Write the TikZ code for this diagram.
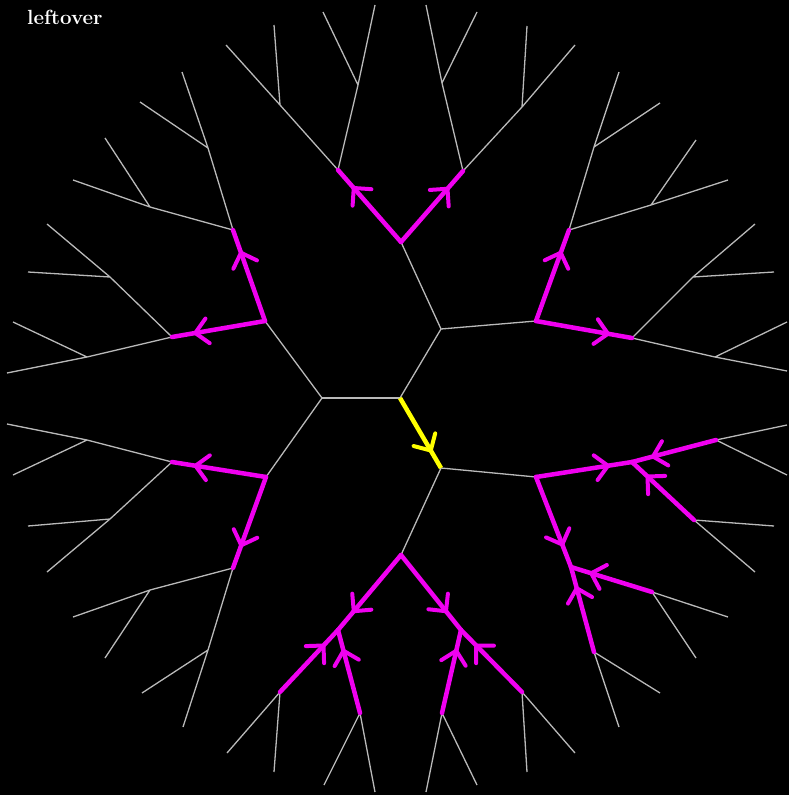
\documentclass[tikz,border=0pt]{standalone}
\usetikzlibrary{decorations.markings}
\definecolor{edgegray}{RGB}{185,185,185}
\definecolor{mag}{RGB}{240,0,240}
\definecolor{yel}{RGB}{255,255,0}
\tikzset{
  gedge/.style={draw=edgegray, line width=1.3pt},
  barbmark/.style={postaction={decorate,decoration={markings,
     mark=at position 0.75 with {\draw[draw=#1,line width=4pt,line cap=round] (-12.5pt,12.5pt) -- (0pt,0pt) -- (-12.5pt,-12.5pt);}}}},
  medge/.style={draw=mag, line width=4.5pt, line cap=round, barbmark=mag},
  yedge/.style={draw=yel, line width=4.5pt, barbmark=yel},
}
\begin{document}
\begin{tikzpicture}[x=1pt,y=-1pt]
\fill[black] (0,0) rectangle (789,795);
\path[use as bounding box] (0,0) rectangle (789,795);
% centre
\coordinate (A) at (400,398);
\coordinate (B) at (322,398);
\coordinate (C) at (441,329);
\coordinate (D) at (441,468);
% depth 2
\coordinate (B1) at (265,321);
\coordinate (B2) at (266,477);
\coordinate (C1) at (401,242);
\coordinate (C2) at (536,321);
\coordinate (D1) at (536,477);
\coordinate (D2) at (401,555);
% depth 3
\coordinate (B1a) at (233,230);
\coordinate (B1b) at (172,337);
\coordinate (B2a) at (172,462);
\coordinate (B2b) at (233,568);
\coordinate (C1a) at (338,170);
\coordinate (C1b) at (463,171);
\coordinate (C2a) at (569,230);
\coordinate (C2b) at (632,338);
\coordinate (D1a) at (632,462);
\coordinate (D1b) at (571,567);
\coordinate (D2a) at (338,630);
\coordinate (D2b) at (461,630);
% depth 4 and leaves
\coordinate (B1a-a) at (208,148); \coordinate (B1a-a-1) at (182,72);  \coordinate (B1a-a-2) at (140,102);
\coordinate (B1a-b) at (150,207); \coordinate (B1a-b-1) at (105,138); \coordinate (B1a-b-2) at (73,180);
\coordinate (B1b-a) at (110,277); \coordinate (B1b-a-1) at (47,224);  \coordinate (B1b-a-2) at (28,272);
\coordinate (B1b-b) at (87,357);  \coordinate (B1b-b-1) at (13,322);  \coordinate (B1b-b-2) at (7,373);
\coordinate (B2a-a) at (87,440);  \coordinate (B2a-a-1) at (7,424);   \coordinate (B2a-a-2) at (13,475);
\coordinate (B2a-b) at (110,519); \coordinate (B2a-b-1) at (28,526);  \coordinate (B2a-b-2) at (47,572);
\coordinate (B2b-a) at (150,590); \coordinate (B2b-a-1) at (73,617);  \coordinate (B2b-a-2) at (105,658);
\coordinate (B2b-b) at (208,650); \coordinate (B2b-b-1) at (142,693); \coordinate (B2b-b-2) at (183,727);
\coordinate (C1a-a) at (280,105); \coordinate (C1a-a-1) at (226,45);  \coordinate (C1a-a-2) at (274,25);
\coordinate (C1a-b) at (358,85);  \coordinate (C1a-b-1) at (323,12);  \coordinate (C1a-b-2) at (375,5);
\coordinate (C1b-a) at (442,83);  \coordinate (C1b-a-1) at (426,5);   \coordinate (C1b-a-2) at (477,12);
\coordinate (C1b-b) at (522,107); \coordinate (C1b-b-1) at (527,26);  \coordinate (C1b-b-2) at (575,45);
\coordinate (C2a-a) at (594,147); \coordinate (C2a-a-1) at (619,72);  \coordinate (C2a-a-2) at (660,103);
\coordinate (C2a-b) at (651,205); \coordinate (C2a-b-1) at (696,140); \coordinate (C2a-b-2) at (728,180);
\coordinate (C2b-a) at (693,277); \coordinate (C2b-a-1) at (755,224); \coordinate (C2b-a-2) at (774,272);
\coordinate (C2b-b) at (715,357); \coordinate (C2b-b-1) at (787,322); \coordinate (C2b-b-2) at (787,371);
\coordinate (D1a-a) at (716,440); \coordinate (D1a-a-1) at (787,425); \coordinate (D1a-a-2) at (787,475);
\coordinate (D1a-b) at (694,520); \coordinate (D1a-b-1) at (774,526); \coordinate (D1a-b-2) at (755,572);
\coordinate (D1b-a) at (652,592); \coordinate (D1b-a-1) at (728,617); \coordinate (D1b-a-2) at (696,658);
\coordinate (D1b-b) at (594,652); \coordinate (D1b-b-1) at (660,693); \coordinate (D1b-b-2) at (619,727);
\coordinate (D2a-a) at (280,692); \coordinate (D2a-a-1) at (227,753); \coordinate (D2a-a-2) at (274,772);
\coordinate (D2a-b) at (360,713); \coordinate (D2a-b-1) at (324,785); \coordinate (D2a-b-2) at (375,792);
\coordinate (D2b-a) at (522,692); \coordinate (D2b-a-1) at (575,753); \coordinate (D2b-a-2) at (527,772);
\coordinate (D2b-b) at (442,713); \coordinate (D2b-b-1) at (426,792); \coordinate (D2b-b-2) at (477,785);
% grey edges
\foreach \p/\q in {A/B,A/C,B/B1,B/B2,C/C1,C/C2,D/D1,D/D2}
  \draw[gedge] (\p) -- (\q);
\foreach \X in {B1a,B1b,B2a,B2b,C1a,C1b,C2a,C2b} {
  \draw[gedge] (\X) -- (\X-a) (\X-a) -- (\X-a-1) (\X-a) -- (\X-a-2)
               (\X) -- (\X-b) (\X-b) -- (\X-b-1) (\X-b) -- (\X-b-2);
}
\foreach \X in {D1a,D1b,D2a,D2b} {
  \draw[gedge] (\X-a) -- (\X-a-1) (\X-a) -- (\X-a-2)
               (\X-b) -- (\X-b-1) (\X-b) -- (\X-b-2);
}
% magenta outward edges
\foreach \p/\q in {B1/B1a,B1/B1b,B2/B2a,B2/B2b,C1/C1a,C1/C1b,C2/C2a,C2/C2b,D1/D1a,D1/D1b,D2/D2a,D2/D2b}
  \draw[medge] (\p) -- (\q);
% magenta inward edges
\foreach \X in {D1a,D1b,D2a,D2b} {
  \draw[medge] (\X-a) -- (\X);
  \draw[medge] (\X-b) -- (\X);
}
% yellow edge
\draw[yedge] (A) -- (D);
\node[text=white, font=\bfseries\fontsize{20.5}{20.5}\selectfont, anchor=base west, inner sep=0pt] (title) at (27,24) {leftover};
\end{tikzpicture}
\end{document}
